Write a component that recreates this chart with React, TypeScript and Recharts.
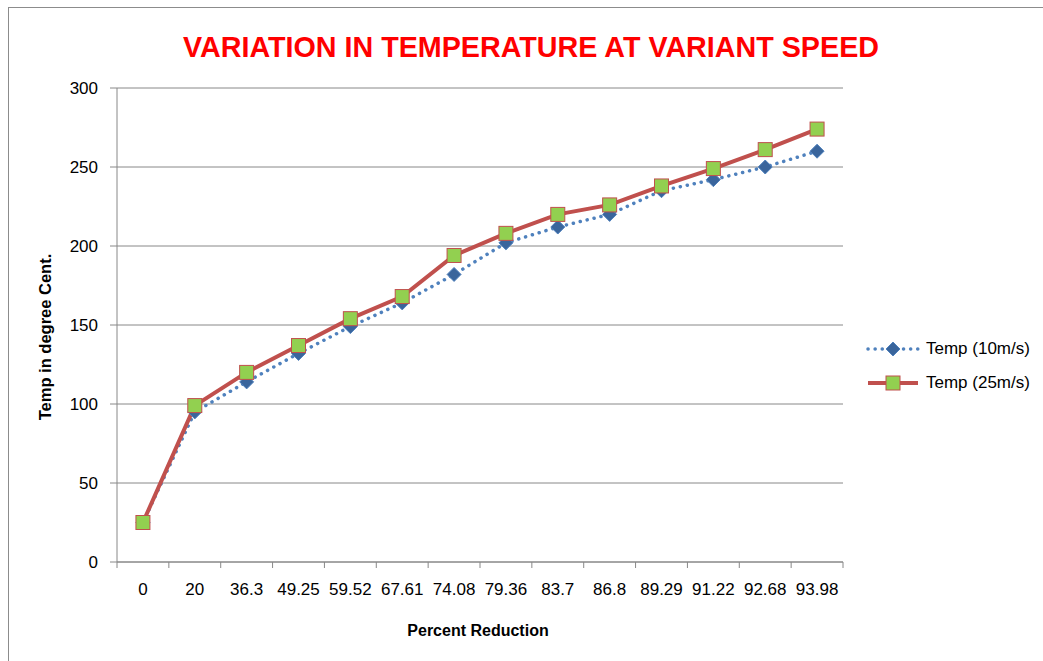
import React from "react";
import {
  LineChart,
  Line,
  XAxis,
  YAxis,
  CartesianGrid,
  Label,
} from "recharts";

const categories = [
  "0", "20", "36.3", "49.25", "59.52", "67.61", "74.08",
  "79.36", "83.7", "86.8", "89.29", "91.22", "92.68", "93.98",
];
const temp10 = [25, 95, 114, 132, 149, 164, 182, 202, 212, 220, 235, 242, 250, 260];
const temp25 = [25, 99, 120, 137, 154, 168, 194, 208, 220, 226, 238, 249, 261, 274];
const yTicks = [0, 50, 100, 150, 200, 250, 300];

const data = categories.map((label, i) => ({
  label,
  t10: temp10[i],
  t25: temp25[i],
}));

const AXIS_GRAY = "#888888";
const BLUE = "#4F81BD";
const DIAMOND = "#3A659C";
const RED = "#C0504D";
const GREEN = "#92D050";

const Diamond = ({ cx, cy }: { cx: number; cy: number }) => (
  <polygon
    points={`${cx},${cy - 7} ${cx + 7},${cy} ${cx},${cy + 7} ${cx - 7},${cy}`}
    fill={DIAMOND}
    stroke={BLUE}
    strokeWidth={1}
  />
);

const Square = ({ cx, cy }: { cx: number; cy: number }) => (
  <rect
    x={cx - 7}
    y={cy - 7}
    width={14}
    height={14}
    fill={GREEN}
    stroke={RED}
    strokeWidth={1}
  />
);

// category label at the band centre, tick marks at the band edges
const BandTick = (props: any) => {
  const { x, y, payload, index, width, visibleTicksCount } = props;
  const half = width / visibleTicksCount / 2;
  return (
    <g>
      <line x1={x - half} y1={y} x2={x - half} y2={y + 6} stroke={AXIS_GRAY} />
      {index === visibleTicksCount - 1 && (
        <line x1={x + half} y1={y} x2={x + half} y2={y + 6} stroke={AXIS_GRAY} />
      )}
      <text x={x} y={y + 21} dy="0.71em" textAnchor="middle" fill="#000" fontSize={17}>
        {payload.value}
      </text>
    </g>
  );
};

const LegendBox = () => (
  <div style={{ fontSize: 17, color: "#000" }}>
    <div style={{ display: "flex", alignItems: "center", height: 34 }}>
      <svg width={60} height={20}>
        <line
          x1={2}
          y1={10}
          x2={52}
          y2={10}
          stroke={BLUE}
          strokeWidth={3.5}
          strokeDasharray="0.1 7"
          strokeLinecap="round"
        />
        <Diamond cx={27} cy={10} />
      </svg>
      <span>Temp (10m/s)</span>
    </div>
    <div style={{ display: "flex", alignItems: "center", height: 34 }}>
      <svg width={60} height={20}>
        <line x1={2} y1={10} x2={52} y2={10} stroke={RED} strokeWidth={4} />
        <Square cx={27} cy={10} />
      </svg>
      <span>Temp (25m/s)</span>
    </div>
  </div>
);

const App = () => {
  return (
    <div
      style={{
        position: "absolute",
        left: 0,
        top: 0,
        width: 1043,
        height: 661,
        background: "#fff",
        fontFamily: "'Liberation Sans', Arial, sans-serif",
        overflow: "hidden",
      }}
    >
      <div
        style={{
          position: "absolute",
          left: 8,
          top: 7,
          width: 1035,
          height: 654,
          borderLeft: "1px solid #8c8c8c",
          borderTop: "1px solid #8c8c8c",
        }}
      />
      <svg
        width={1043}
        height={70}
        style={{ position: "absolute", left: 0, top: 0 }}
      >
        <text
          x={531}
          y={57}
          textAnchor="middle"
          fill="#FF0000"
          fontWeight="bold"
          fontSize={30}
          textLength={696}
          lengthAdjust="spacingAndGlyphs"
        >
          VARIATION IN TEMPERATURE AT VARIANT SPEED
        </text>
      </svg>
      <div style={{ position: "absolute", left: 0, top: 0 }}>
        <LineChart
          width={1043}
          height={661}
          data={data}
          margin={{ top: 88, right: 200, bottom: 39, left: 0 }}
        >
          <CartesianGrid vertical={false} stroke={AXIS_GRAY} />
          <XAxis
            dataKey="label"
            scale="band"
            interval={0}
            height={60}
            tickLine={false}
            axisLine={{ stroke: AXIS_GRAY }}
            tickSize={0}
            tickMargin={0}
            tick={<BandTick />}
          >
            <Label
              content={({ viewBox }: any) => (
                <text
                  x={viewBox.x + viewBox.width / 2 - 2}
                  y={viewBox.y + 74}
                  textAnchor="middle"
                  fontWeight="bold"
                  fontSize={16}
                  fill="#000"
                >
                  Percent Reduction
                </text>
              )}
            />
          </XAxis>
          <YAxis
            width={117}
            domain={[0, 300]}
            ticks={yTicks}
            tickSize={7}
            tickMargin={12}
            axisLine={{ stroke: AXIS_GRAY }}
            tickLine={{ stroke: AXIS_GRAY }}
            tick={{ fill: "#000", fontSize: 17 }}
          >
            <Label
              content={({ viewBox }: any) => {
                const cx = 45;
                const cy = viewBox.y + viewBox.height / 2 + 12;
                return (
                  <text
                    x={cx}
                    y={cy}
                    transform={`rotate(-90 ${cx} ${cy})`}
                    textAnchor="middle"
                    dominantBaseline="central"
                    fontWeight="bold"
                    fontSize={16.5}
                    fill="#000"
                  >
                    Temp in degree Cent.
                  </text>
                );
              }}
            />
          </YAxis>
          <Line
            dataKey="t10"
            name="Temp (10m/s)"
            stroke={BLUE}
            strokeWidth={3.5}
            strokeDasharray="0.1 7"
            strokeLinecap="round"
            isAnimationActive={false}
            dot={(p: any) => <Diamond key={`d${p.index}`} cx={p.cx} cy={p.cy} />}
            activeDot={false}
          />
          <Line
            dataKey="t25"
            name="Temp (25m/s)"
            stroke={RED}
            strokeWidth={4}
            isAnimationActive={false}
            dot={(p: any) => <Square key={`s${p.index}`} cx={p.cx} cy={p.cy} />}
            activeDot={false}
          />
        </LineChart>
      </div>
      <div style={{ position: "absolute", left: 866, top: 332, width: 177 }}>
        <LegendBox />
      </div>
    </div>
  );
};

export default App;
